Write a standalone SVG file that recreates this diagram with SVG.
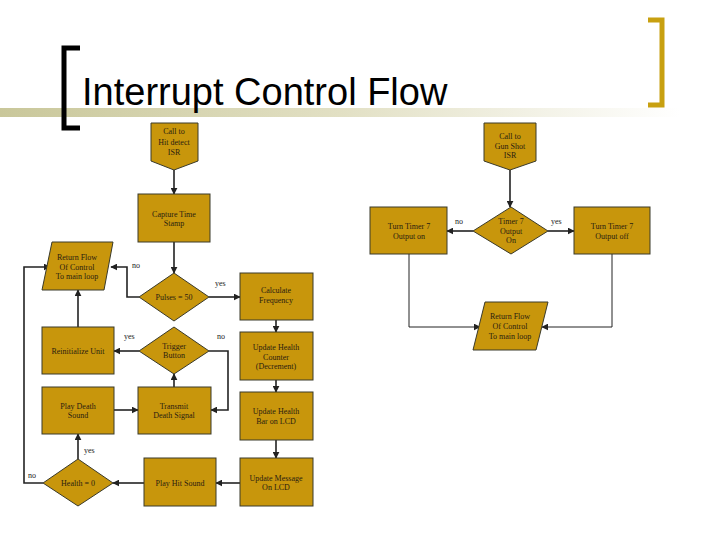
<svg xmlns="http://www.w3.org/2000/svg" width="720" height="540" viewBox="0 0 720 540">
<defs>
<linearGradient id="bar" x1="0" x2="1" y1="0" y2="0">
<stop offset="0" stop-color="#c9c79a"/><stop offset="0.5" stop-color="#e2e0c4"/><stop offset="1" stop-color="#ffffff"/>
</linearGradient>
<marker id="ah" viewBox="0 0 10 10" refX="9" refY="5" markerWidth="7" markerHeight="7" markerUnits="userSpaceOnUse" orient="auto"><path d="M0,0L10,5L0,10z" fill="#222"/></marker>
<style>
.n{fill:#c8960c;stroke:#3a3a2a;stroke-width:1}
.t{font-family:"Liberation Serif",serif;font-size:8px;fill:#2a2010;text-anchor:middle}
.l{font-family:"Liberation Serif",serif;font-size:8px;fill:#222}
.c{fill:none;stroke:#222;stroke-width:1.6;marker-end:url(#ah)}
.c2{fill:none;stroke:#222;stroke-width:1;marker-end:url(#ah)}
</style>
</defs>
<rect width="720" height="540" fill="#fff"/>
<rect x="0" y="108" width="680" height="9" fill="url(#bar)"/>
<path d="M80,48H64V128H80" fill="none" stroke="#000" stroke-width="5"/>
<path d="M648,20H662V105H648" fill="none" stroke="#c8a010" stroke-width="5"/>
<text x="82" y="105" font-family="Liberation Sans,Arial,sans-serif" font-size="38" fill="#000">Interrupt Control Flow</text>

<g id="connectors">
<path class="c" d="M174,170V194"/>
<path class="c" d="M174,242V273"/>
<path class="c" d="M139,297H127V267H111"/>
<path class="c" d="M209,297H240"/>
<path class="c" d="M276,320V332"/>
<path class="c" d="M276,380V392"/>
<path class="c" d="M276,440V458"/>
<path class="c" d="M240,483H216"/>
<path class="c" d="M144,483H113"/>
<path class="c" d="M78,459V434"/>
<path class="c" d="M43,483H24V267H50"/>
<path class="c" d="M78,327V290"/>
<path class="c" d="M139,351H114"/>
<path class="c" d="M209,351H228V410H211"/>
<path class="c" d="M174,387V374"/>
<path class="c" d="M114,410H138"/>
<path class="c" d="M510,170V207"/>
<path class="c" d="M473,231H447"/>
<path class="c" d="M548,231H574"/>
<path class="c2" d="M409,254V327H480"/>
<path class="c2" d="M612,254V327H542"/>
</g>

<g id="hit"><path class="n" d="M151,123H198V161L174,170L151,161Z"/><text class="t" x="174" y="134">Call to</text><text class="t" x="174" y="145">Hit detect</text><text class="t" x="174" y="155">ISR</text></g>
<g id="capture"><rect class="n" x="138" y="194" width="72" height="48"/><text class="t" x="174" y="217">Capture Time</text><text class="t" x="174" y="226">Stamp</text></g>
<g id="ret1"><path class="n" d="M52,242H113L104,290H42Z"/><text class="t" x="77" y="260">Return Flow</text><text class="t" x="77" y="270">Of Control</text><text class="t" x="77" y="279">To main loop</text></g>
<g id="pulses"><path class="n" d="M174,273L209,297L174,321L139,297Z"/><text class="t" x="174" y="300">Pulses = 50</text></g>
<g id="calc"><rect class="n" x="240" y="273" width="73" height="47"/><text class="t" x="276" y="293">Calculate</text><text class="t" x="276" y="303">Frequency</text></g>
<g id="reinit"><rect class="n" x="42" y="327" width="72" height="47"/><text class="t" x="78" y="354">Reinitialize Unit</text></g>
<g id="trigger"><path class="n" d="M174,327L209,351L174,374L139,351Z"/><text class="t" x="174" y="349">Trigger</text><text class="t" x="174" y="358">Button</text></g>
<g id="counter"><rect class="n" x="240" y="332" width="73" height="48"/><text class="t" x="276" y="350">Update Health</text><text class="t" x="276" y="360">Counter</text><text class="t" x="276" y="369">(Decrement)</text></g>
<g id="death"><rect class="n" x="42" y="387" width="72" height="47"/><text class="t" x="78" y="409">Play Death</text><text class="t" x="78" y="418">Sound</text></g>
<g id="transmit"><rect class="n" x="138" y="387" width="73" height="47"/><text class="t" x="174" y="409">Transmit</text><text class="t" x="174" y="418">Death Signal</text></g>
<g id="bar2"><rect class="n" x="240" y="392" width="73" height="48"/><text class="t" x="276" y="414">Update Health</text><text class="t" x="276" y="424">Bar on LCD</text></g>
<g id="health"><path class="n" d="M78,459L113,483L78,506L43,483Z"/><text class="t" x="78" y="486">Health = 0</text></g>
<g id="hitsound"><rect class="n" x="144" y="458" width="72" height="48"/><text class="t" x="180" y="486">Play Hit Sound</text></g>
<g id="msg"><rect class="n" x="240" y="458" width="73" height="48"/><text class="t" x="276" y="481">Update Message</text><text class="t" x="276" y="490">On LCD</text></g>

<g id="gun"><path class="n" d="M484,123H536V161L510,170L484,161Z"/><text class="t" x="510" y="139">Call to</text><text class="t" x="510" y="149">Gun Shot</text><text class="t" x="510" y="158">ISR</text></g>
<g id="timer"><path class="n" d="M511,207L548,231L511,254L473,231Z"/><text class="t" x="511" y="224">Timer 7</text><text class="t" x="511" y="234">Output</text><text class="t" x="511" y="243">On</text></g>
<g id="ton"><rect class="n" x="370" y="207" width="77" height="47"/><text class="t" x="409" y="229">Turn Timer 7</text><text class="t" x="409" y="239">Output on</text></g>
<g id="toff"><rect class="n" x="574" y="207" width="76" height="47"/><text class="t" x="612" y="229">Turn Timer 7</text><text class="t" x="612" y="239">Output off</text></g>
<g id="ret2"><path class="n" d="M485,302H548L536,350H473Z"/><text class="t" x="510" y="319">Return Flow</text><text class="t" x="510" y="329">Of Control</text><text class="t" x="510" y="339">To main loop</text></g>

<g id="labels">
<text class="l" x="132" y="268">no</text>
<text class="l" x="215" y="286">yes</text>
<text class="l" x="124" y="339">yes</text>
<text class="l" x="217" y="339">no</text>
<text class="l" x="84" y="453">yes</text>
<text class="l" x="28" y="478">no</text>
<text class="l" x="455" y="224">no</text>
<text class="l" x="551" y="224">yes</text>
</g>
</svg>
